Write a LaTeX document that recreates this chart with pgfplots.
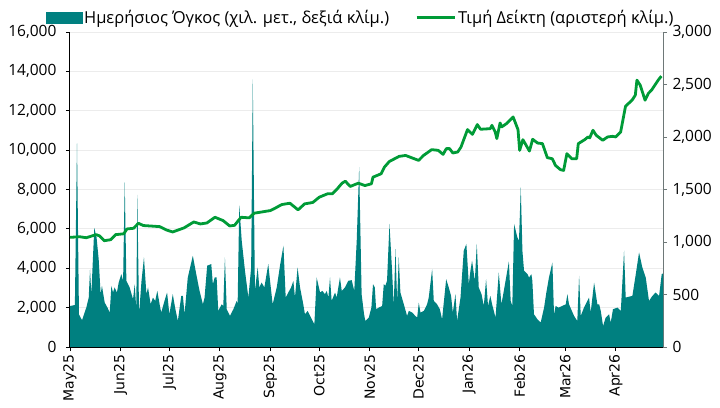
\documentclass[border=0pt]{standalone}
\usepackage{fontspec}
\setmainfont{Open Sans}
\newfontfamily\xfont{DejaVu Sans}
\usepackage{pgfplots}
\usepackage{pgfplotstable}
\pgfplotsset{compat=1.18}
\definecolor{volc}{RGB}{0,128,128}
\definecolor{pricec}{RGB}{0,155,55}
\definecolor{gridc}{RGB}{236,236,236}
\definecolor{raxis}{RGB}{110,120,120}

% daily volume (right scale), x = days since 1 May 2025
\pgfplotstableread{
d v
0 390
3 400
4.3 1940
5.5 310
7.4 255
10 375
11.5 470
12.3 740
13.1 500
14.9 1134
16.3 1044
17.6 837
18.8 503
19.6 583
21.3 423
23 375
24.4 328
25.4 583
26.4 519
27.4 567
28.8 519
29.9 614
31.5 694
32.6 630
33.6 1570
34.6 630
36.6 567
38.7 455
39.7 598
40.7 360
41.3 1450
42.4 318
43.9 630
45.4 853
46.9 503
47.9 567
49.5 407
50.9 471
52.3 439
53.6 535
55 407
56 328
58 439
59.6 519
61 312
63.1 503
64.5 375
66.2 248
68.3 487
69.3 487
70.3 312
72.3 662
75.4 869
77.5 694
79.5 535
81.6 407
82.6 471
84.2 774
86.7 790
87.7 598
88.8 662
90 662
91 344
93.1 407
94.1 391
95.1 853
96.2 360
98.2 296
100.3 360
102.3 439
102.9 407
103.9 1350
105.4 1013
107.4 726
109.5 471
111.2 758
112.2 2550
113.5 535
115.2 758
116.2 567
117.6 614
119.3 567
121.7 790
122.8 630
124.4 407
126.9 567
128.9 774
131 965
132.4 471
134 519
135.7 567
137.1 630
138.1 471
139.7 758
141.2 567
143.2 407
144.2 312
145.9 344
147.9 280
150 216
151.4 662
153.5 519
154.9 535
156.5 503
157.6 535
158.6 471
159.6 662
160.6 439
162.7 519
163.7 471
165.7 662
166.8 535
168.8 567
170.8 630
172.9 637
174.5 535
176 1013
177.5 1713
179 503
180.5 312
181.3 248
183.4 280
185 375
186 598
187.1 567
187.9 360
189.5 375
191.6 391
192.6 598
193.6 583
194.6 630
196.1 1172
197.7 726
198.7 391
199.8 933
200.8 439
201.8 853
202.8 519
204.9 407
206.9 296
208 344
210 328
212 296
213.1 280
214.1 423
215.1 328
217.2 344
219.2 407
220.2 471
222.3 742
223.3 439
225.3 407
227 360
228.4 264
230.9 646
232.5 567
233.9 487
235 328
236.6 503
237.6 248
239.7 471
241.7 917
243.3 981
244.8 598
245.8 726
246.8 822
248.5 630
249.7 981
250.9 567
252.6 503
254 391
255.4 646
256.6 391
258 487
259.1 407
261.2 280
263.2 710
264.8 407
266.3 535
269.4 815
270.5 439
271.5 391
272.6 1172
274.6 1044
275.6 1013
276.7 1522
277.7 917
278.7 726
280.8 694
281.8 662
283.2 694
283.8 630
284.8 312
286.9 264
288.9 232
291 375
292.4 519
294 662
296.1 805
297.1 312
298.1 391
299.8 375
302.2 391
304.3 407
305.3 503
306.3 407
309.4 296
311.4 248
312.5 678
313.5 296
315.5 375
318.6 471
319.6 328
321.7 614
323.7 407
324.8 407
325.8 344
327.2 200
328.8 280
330.9 312
331.9 232
333.3 360
336 375
338.1 344
340.1 917
341.1 471
345.2 487
347.3 694
349.3 901
351.3 758
353.4 662
355.4 439
357.5 487
359.5 519
361.6 487
363.2 694
364 700
}\voldata

% index price (left scale)
\pgfplotstableread{
d p
0 5570
6 5600
10 5550
16 5707
18 5650
21 5400
25 5450
28 5707
33 5750
35 5997
39 6030
42 6285
45 6170
55 6115
59 5950
63 5843
70 6050
76 6352
80 6250
84 6300
89 6590
94 6420
98 6150
101 6180
105 6590
110 6560
113 6795
123 6930
125 7010
130 7236
135 7303
140 6966
144 7270
149 7340
153 7608
158 7780
161 7780
164 8030
167 8322
169 8422
172 8154
177 8322
181 8200
185 8290
186 8628
191 8800
193 9137
196 9420
202 9682
206 9730
214 9478
217 9730
222 10024
226 9990
229 9784
231 10075
233 10075
235 9855
238 9905
240 10157
244 11043
247 10800
250 11298
252 11060
258 11090
259 11260
261 10925
262 10585
264 11380
265 11180
268 11350
272 11685
275 11040
276 9988
278 10530
280 10245
282 9953
284 10550
287 10360
290 10330
293 9617
296 9565
298 9224
301 9010
303 8969
305 9820
308 9560
311 9560
312 10330
316 10535
318 10670
319 10620
321 11007
323 10755
327 10500
330 10670
333 10700
335 10670
338 10921
341 12230
345 12536
347 12790
348 13555
350 13300
353 12536
355 12880
357 13050
361 13550
363 13759
}\pricedata

\begin{document}
\begin{tikzpicture}
\pgfplotsset{
  base/.style={
    scale only axis, width=593pt, height=315pt,
    at={(0pt,0pt)}, anchor=south west,
    xmin=0, xmax=364,
    tick align=outside, major tick length=4pt,
    ticklabel style={font=\fontsize{15.5}{18}\selectfont},
    scaled y ticks=false,
    /pgf/number format/assume math mode=true,
    /pgf/number format/1000 sep={,},
    axis line style={-},
  }
}
\path[use as bounding box] (-70pt,-60pt) rectangle (650pt,347pt);

% volume, right axis
\begin{axis}[base,
  ymin=0, ymax=3000,
  axis y line*=right, axis x line=none,
  ytick={0,500,...,3000},
  y axis line style={raxis, line width=0.8pt},
  ytick style={raxis, line width=0.8pt},
  yticklabel style={xshift=2pt},
  extra y ticks={375,750,1125,1500,1875,2250,2625,3000},
  extra y tick labels={},
  extra y tick style={grid=major, major tick length=0pt},
  major grid style={gridc, line width=1pt},
]
\addplot[fill=volc, draw=none] table[x=d, y=v] {\voldata} \closedcycle;
\end{axis}

% price, left axis
\begin{axis}[base,
  ymin=0, ymax=16000,
  axis y line*=left, axis x line*=bottom,
  ytick={0,2000,...,16000},
  xtick={0,31,61,92,123,153,184,214,245,276,304,335},
  xticklabels={May25,Jun25,Jul25,Aug25,Sep25,Oct25,Nov25,Dec25,Jan26,Feb26,Mar26,Apr26},
  xticklabel style={rotate=90, anchor=east, font=\xfont\fontsize{14}{16}\selectfont},
  yticklabel style={xshift=-6pt},
  axis line style={black, line width=1pt},
  tick style={black, line width=0.8pt},
  legend style={at={(0.49,1)}, anchor=south, yshift=3pt, draw=none, fill=none,
    font=\fontsize{16.5}{19}\selectfont, legend columns=2,
    /tikz/every even column/.append style={column sep=24pt}},
]
\addlegendimage{legend image code/.code={\fill[volc] (0pt,-5.5pt) rectangle (36pt,5.5pt);}}
\addlegendentry{Ημερήσιος Όγκος (χιλ. μετ., δεξιά κλίμ.)}
\addplot[pricec, line width=2.8pt, line join=round,
  legend image code/.code={\draw[pricec, line width=2.8pt] (0pt,0pt) -- (38pt,0pt);}]
  table[x=d, y=p] {\pricedata};
\addlegendentry{Τιμή Δείκτη (αριστερή κλίμ.)}
\end{axis}
\end{tikzpicture}
\end{document}
